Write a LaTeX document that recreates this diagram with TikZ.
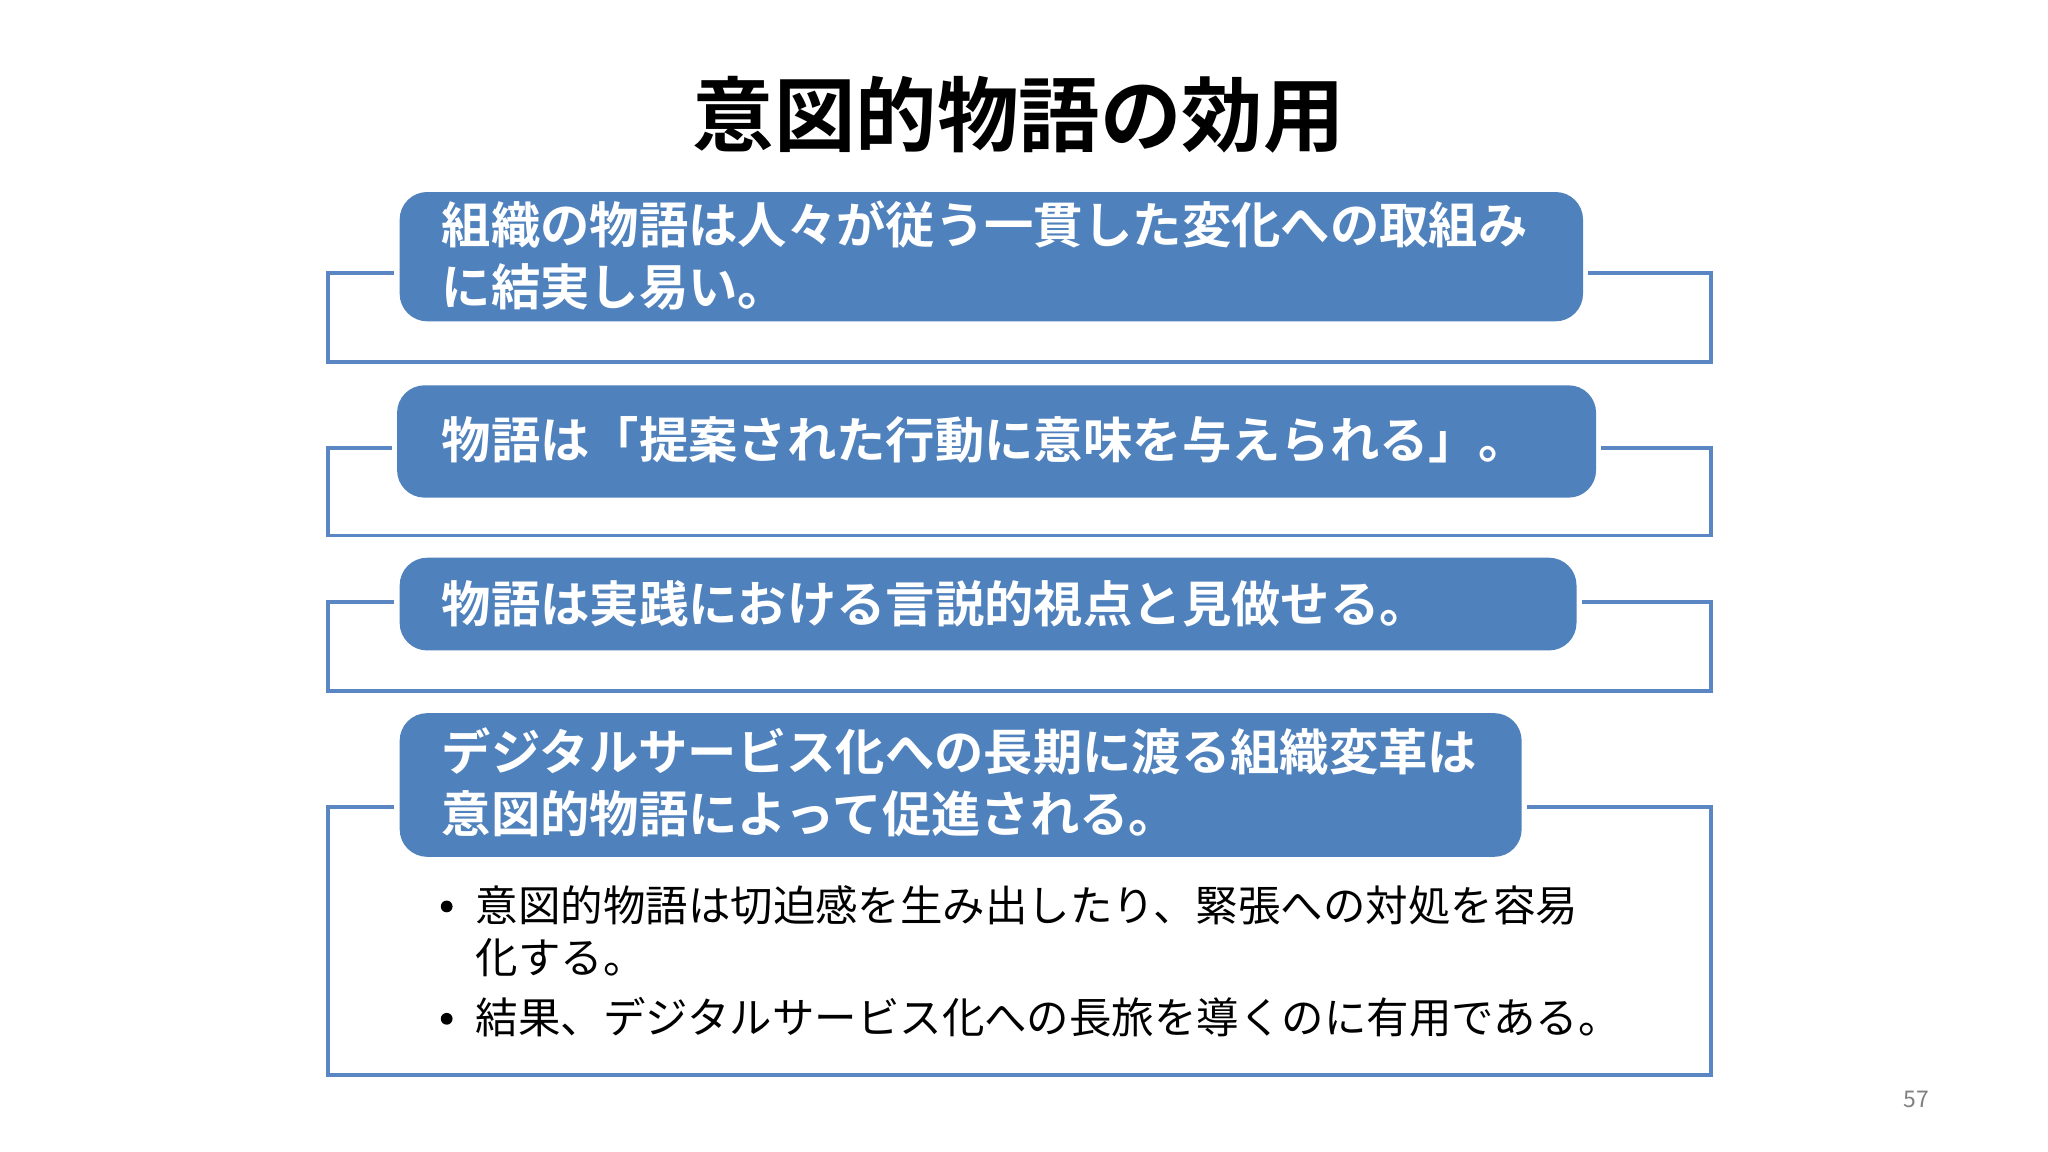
\documentclass[tikz,border=0pt]{standalone}
\usepackage{fontspec}
\setmainfont{Noto Sans CJK JP}
\newfontfamily\jpb{Noto Sans CJK JP Bold}
\definecolor{boxblue}{HTML}{4F81BD}
\definecolor{linecol}{HTML}{5A86C3}
\begin{document}
\begin{tikzpicture}[x=0.02cm,y=-0.02cm,
  bx/.style={fill=boxblue,draw=boxblue!80!white,line width=1pt,rounded corners=12pt,anchor=north west,inner sep=0pt},
  bt/.style={anchor=west,text=white,font=\jpb\fontsize{21.5}{27}\selectfont,align=left,inner sep=0pt},
  br/.style={draw=linecol,line width=1.5pt},
  bul/.style={anchor=west,font=\fontsize{18.5}{23}\selectfont,align=left,inner sep=0pt}]
\useasboundingbox[fill=white] (0,0) rectangle (1568,882);
\node[font=\jpb\fontsize{35.5}{40}\selectfont] (title) at (780,88) {意図的物語の効用};
% brackets
\draw[br] (302,209) -- (251,209) -- (251,277) -- (1310,277) -- (1310,209) -- (1216,209);
\draw[br] (300,343) -- (251,343) -- (251,410) -- (1310,410) -- (1310,343) -- (1226,343);
\draw[br] (302,461) -- (251,461) -- (251,529) -- (1310,529) -- (1310,461) -- (1211,461);
\draw[br] (302,618) -- (251,618) -- (251,823) -- (1310,823) -- (1310,618) -- (1169,618);
% boxes
\fill[boxblue,rounded corners=12pt] (306,147) rectangle (1212,246);
\fill[boxblue,rounded corners=12pt] (304,295) rectangle (1222,381);
\fill[boxblue,rounded corners=12pt] (306,427) rectangle (1207,498);
\fill[boxblue,rounded corners=12pt] (306,546) rectangle (1165,656);
\node[bt] (t1) at (338,196) {組織の物語は人々が従う一貫した変化への取組み\\に結実し易い。};
\node[bt] (t2) at (338,337) {物語は「提案された行動に意味を与えられる」。};
\node[bt] (t3) at (338,462) {物語は実践における言説的視点と見做せる。};
\node[bt] (t4) at (338,599) {デジタルサービス化への長期に渡る組織変革は\\意図的物語によって促進される。};
\node[bul] (b1) at (364,713) {意図的物語は切迫感を生み出したり、緊張への対処を容易\\化する。};
\node[bul] (b2) at (364,779) {結果、デジタルサービス化への長旅を導くのに有用である。};
\fill (342,694) circle (4.5);
\fill (342,780) circle (4.5);
\node[text=gray,font=\fontsize{10}{12}\selectfont] (pg) at (1467,842) {57};
\end{tikzpicture}
\end{document}
